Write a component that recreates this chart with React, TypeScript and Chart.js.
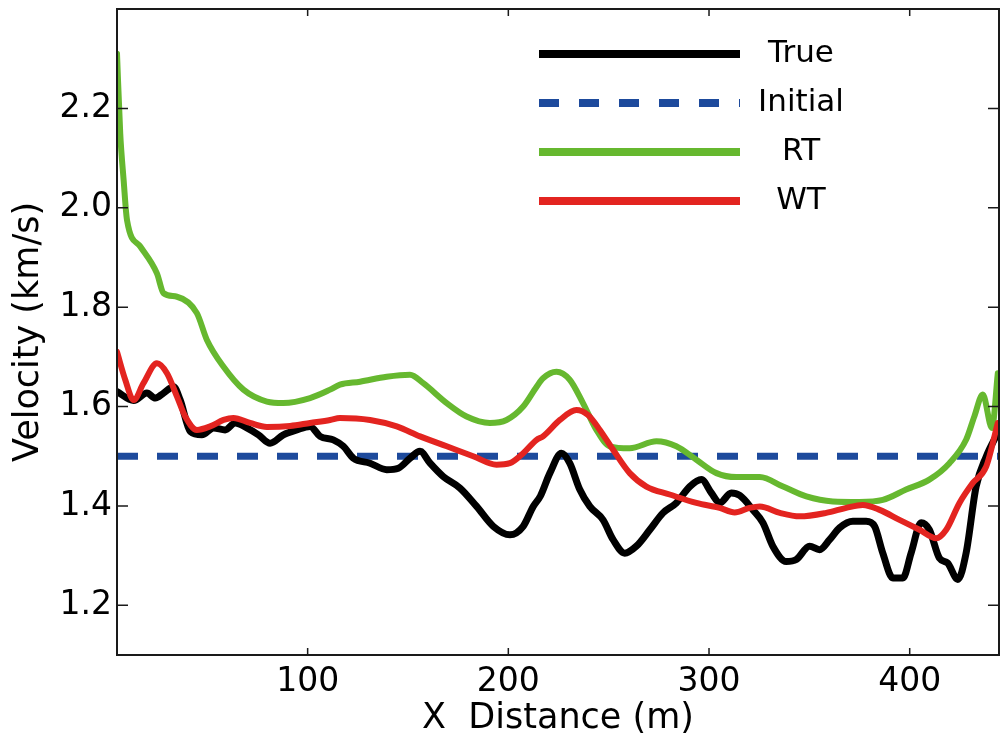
import React, { useEffect, useRef } from 'react';
import { Chart, registerables } from 'chart.js';

Chart.register(...registerables);

const FONT = '"DejaVu Sans", "Liberation Sans", Arial, sans-serif';

// Axis setup
const X_MIN = 5;
const X_MAX = 444.5;
const Y_MIN = 1.1;
const Y_MAX = 2.4;
const xTicks = [100, 200, 300, 400];
const yTicks = [1.2, 1.4, 1.6, 1.8, 2.0, 2.2];

const seriesLabels = ['True', 'Initial', 'RT', 'WT'];

// True model (black)
const trueX = [5, 13.3, 19.9, 24.1, 28.2, 33.2, 36.5, 41.5, 47.3, 53.1, 58.9, 63.9, 69.7, 75.5, 81.3, 87.9, 94.6, 101.2, 106.2, 112.8, 117.8, 122.8, 131.1, 139.4, 145.2, 151, 156, 161, 167.6, 175.9, 184.2, 192.5, 200.8, 207.4, 212.4, 216, 220.7, 226.5, 230.6, 235.6, 240.6, 247.2, 252.2, 258, 263.8, 270.5, 277.1, 283.7, 290.4, 296.2, 301.2, 305.3, 311.1, 315.3, 321.9, 326.9, 331.8, 338.5, 343.5, 350.1, 355.1, 360.1, 365.1, 371.7, 378.3, 382.5, 386.6, 391.6, 396.6, 400.7, 405.7, 409.8, 414.8, 418.9, 424, 428.1, 433.1, 438.1, 443.9];
const trueV = [1.63, 1.612, 1.627, 1.617, 1.627, 1.64, 1.613, 1.55, 1.543, 1.557, 1.553, 1.567, 1.557, 1.543, 1.526, 1.543, 1.553, 1.56, 1.54, 1.533, 1.52, 1.496, 1.486, 1.473, 1.476, 1.496, 1.51, 1.486, 1.459, 1.436, 1.399, 1.359, 1.342, 1.359, 1.399, 1.42, 1.466, 1.506, 1.486, 1.433, 1.399, 1.372, 1.332, 1.305, 1.319, 1.352, 1.386, 1.406, 1.439, 1.453, 1.426, 1.406, 1.426, 1.421, 1.392, 1.366, 1.319, 1.288, 1.292, 1.319, 1.312, 1.332, 1.356, 1.369, 1.369, 1.359, 1.305, 1.255, 1.255, 1.305, 1.366, 1.352, 1.295, 1.285, 1.252, 1.305, 1.439, 1.499, 1.547];

// Initial model (blue dashed)
const initialX = [5, 444.5];
const initialV = [1.5, 1.5];

// RT (green)
const rtX = [5, 6.6, 8.3, 10, 16.6, 24.9, 28.2, 34.9, 44.8, 49.8, 58.1, 68, 79.7, 87.9, 101.2, 111.2, 116.1, 126.1, 139.4, 151, 157.6, 169.3, 179.2, 190.8, 199.1, 207.4, 214.1, 217.3, 224, 230.6, 237.2, 243.9, 250.5, 260.5, 273.8, 283.7, 293.7, 303.7, 313.6, 325.3, 336.9, 348.5, 361.7, 375, 386.6, 398.2, 409.8, 419.8, 428.1, 432.2, 436.4, 441, 443.9];
const rtV = [2.31, 2.15, 2.056, 1.975, 1.922, 1.868, 1.828, 1.821, 1.788, 1.734, 1.68, 1.634, 1.61, 1.607, 1.617, 1.634, 1.644, 1.65, 1.66, 1.664, 1.647, 1.607, 1.58, 1.567, 1.573, 1.6, 1.64, 1.657, 1.67, 1.654, 1.607, 1.553, 1.52, 1.516, 1.53, 1.52, 1.493, 1.466, 1.458, 1.458, 1.439, 1.419, 1.409, 1.408, 1.412, 1.433, 1.453, 1.486, 1.533, 1.58, 1.624, 1.557, 1.667];

// WT (red)
const wtX = [5, 9.1, 13.3, 18.2, 24.9, 29.9, 34.9, 39, 44.8, 51.4, 58.1, 63, 71.3, 79.7, 91.3, 101.2, 111.2, 116.1, 131.1, 144.4, 156, 169.3, 182.5, 194.1, 200.8, 207.4, 214.1, 217.3, 225.7, 233.9, 239.7, 245.6, 252.2, 260.5, 268.8, 280.4, 293.7, 305.3, 312.8, 320.2, 325.3, 335.3, 345.2, 358.4, 368.4, 376.6, 385, 394.9, 404.9, 413.2, 418.2, 424.8, 431.4, 438.1, 443.9];
const wtV = [1.71, 1.654, 1.613, 1.647, 1.687, 1.667, 1.62, 1.58, 1.553, 1.56, 1.573, 1.577, 1.567, 1.559, 1.561, 1.567, 1.573, 1.577, 1.573, 1.56, 1.54, 1.52, 1.5, 1.483, 1.486, 1.506, 1.533, 1.54, 1.573, 1.593, 1.583, 1.553, 1.513, 1.466, 1.439, 1.423, 1.406, 1.396, 1.387, 1.396, 1.399, 1.386, 1.379, 1.386, 1.396, 1.402, 1.392, 1.372, 1.352, 1.335, 1.352, 1.406, 1.446, 1.479, 1.567];

const COLORS = ['#000000', '#1d4a9c', '#66b82f', '#e32420'];

const toPts = (xs: number[], ys: number[]) => xs.map((x, i) => ({ x, y: ys[i] }));

const decorPlugin = {
  id: 'decor',
  afterDatasetsDraw(chart: any) {
    const { ctx, chartArea: a, scales } = chart;
    ctx.save();
    // frame
    ctx.strokeStyle = '#1a1a1a';
    ctx.lineWidth = 2;
    ctx.setLineDash([]);
    ctx.strokeRect(a.left, a.top, a.right - a.left, a.bottom - a.top);
    // inward ticks
    ctx.lineWidth = 1.5;
    ctx.beginPath();
    xTicks.forEach((v) => {
      const px = scales.x.getPixelForValue(v);
      ctx.moveTo(px, a.bottom);
      ctx.lineTo(px, a.bottom - 7);
      ctx.moveTo(px, a.top);
      ctx.lineTo(px, a.top + 7);
    });
    yTicks.forEach((v) => {
      const py = scales.y.getPixelForValue(v);
      ctx.moveTo(a.left, py);
      ctx.lineTo(a.left + 11, py);
      ctx.moveTo(a.right, py);
      ctx.lineTo(a.right - 11, py);
    });
    ctx.stroke();

    // legend
    const ds = chart.data.datasets;
    ds.forEach((d: any, i: number) => {
      const y = 54 + i * 49;
      ctx.beginPath();
      ctx.strokeStyle = d.borderColor;
      ctx.lineWidth = 8;
      ctx.lineCap = 'butt';
      ctx.setLineDash(d.borderDash && d.borderDash.length ? [20, 20] : []);
      ctx.moveTo(539, y);
      ctx.lineTo(740, y);
      ctx.stroke();
      ctx.setLineDash([]);
      ctx.fillStyle = '#000';
      ctx.font = `31px ${FONT}`;
      ctx.textAlign = 'center';
      ctx.textBaseline = 'middle';
      ctx.fillText(d.label, 801, y);
    });
    ctx.restore();
  },
};

export default function App() {
  const ref = useRef<HTMLCanvasElement | null>(null);

  useEffect(() => {
    if (!ref.current) return;
    const common = {
      pointRadius: 0,
      fill: false,
      cubicInterpolationMode: 'monotone' as const,
      borderJoinStyle: 'round' as const,
    };
    const chart = new Chart(ref.current, {
      type: 'line',
      data: {
        datasets: [
          { ...common, label: seriesLabels[0], data: toPts(trueX, trueV), borderColor: COLORS[0], borderWidth: 7, borderCapStyle: 'round', order: 2 },
          { ...common, label: seriesLabels[1], data: toPts(initialX, initialV), borderColor: COLORS[1], borderWidth: 7, borderDash: [21, 19], borderCapStyle: 'butt', order: 3 },
          { ...common, label: seriesLabels[2], data: toPts(rtX, rtV), borderColor: COLORS[2], borderWidth: 6, borderCapStyle: 'round', order: 1 },
          { ...common, label: seriesLabels[3], data: toPts(wtX, wtV), borderColor: COLORS[3], borderWidth: 6, borderCapStyle: 'round', order: 0 },
        ],
      },
      options: {
        animation: false,
        responsive: false,
        devicePixelRatio: 1,
        parsing: false as any,
        layout: { padding: { top: 9, right: 1, left: 0, bottom: 0 } },
        plugins: { legend: { display: false }, tooltip: { enabled: false } },
        scales: {
          x: {
            type: 'linear',
            min: X_MIN,
            max: X_MAX,
            grid: { display: false, drawTicks: false },
            border: { display: false },
            afterBuildTicks: (s: any) => {
              s.ticks = xTicks.map((v) => ({ value: v }));
            },
            afterFit: (s: any) => {
              s.height = 95;
              s.paddingLeft = 0;
              s.paddingRight = 0;
              s.paddingTop = 0;
              s.paddingBottom = 0;
            },
            ticks: {
              color: '#000',
              font: { family: FONT, size: 33 },
              padding: 8,
              maxRotation: 0,
              autoSkip: false,
              callback: (v: any) => String(v),
            },
            title: {
              display: true,
              text: 'X  Distance (m)',
              color: '#000',
              font: { family: FONT, size: 35 },
              padding: { top: 0, bottom: 10 },
            },
          },
          y: {
            type: 'linear',
            min: Y_MIN,
            max: Y_MAX,
            grid: { display: false, drawTicks: false },
            border: { display: false },
            afterBuildTicks: (s: any) => {
              s.ticks = yTicks.map((v) => ({ value: v }));
            },
            afterFit: (s: any) => {
              s.width = 117;
              s.paddingLeft = 0;
              s.paddingRight = 0;
              s.paddingTop = 0;
              s.paddingBottom = 0;
            },
            ticks: {
              color: '#000',
              font: { family: FONT, size: 33 },
              padding: 5,
              autoSkip: false,
              callback: (v: any) => Number(v).toFixed(1),
            },
            title: {
              display: true,
              text: 'Velocity (km/s)',
              color: '#000',
              font: { family: FONT, size: 35 },
              padding: { top: 8, bottom: 0 },
            },
          },
        },
      } as any,
      plugins: [decorPlugin],
    });
    return () => chart.destroy();
  }, []);

  return (
    <div style={{ position: 'absolute', left: 0, top: 0, width: 1000, height: 750, background: '#fff' }}>
      <canvas ref={ref} width={1000} height={750} style={{ display: 'block' }} />
    </div>
  );
}
